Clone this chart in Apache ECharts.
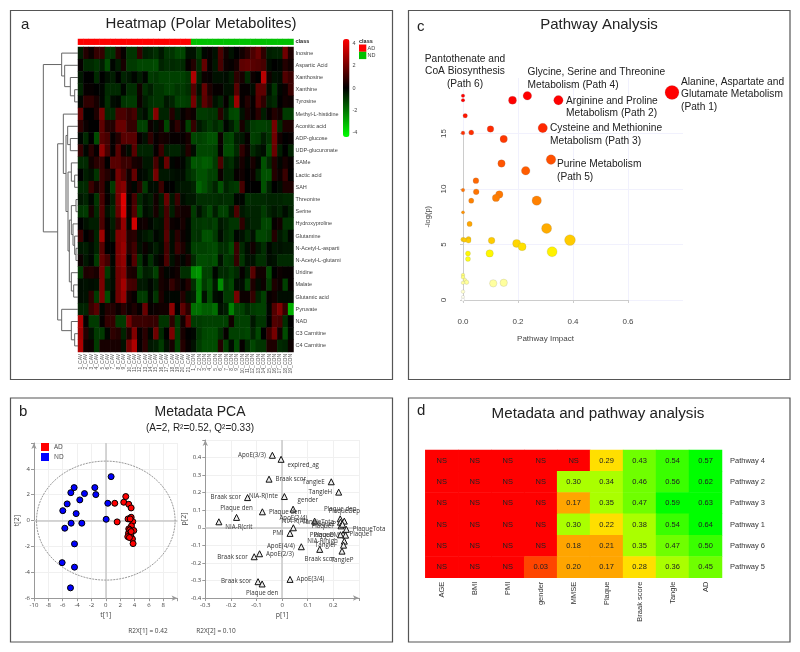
<!DOCTYPE html>
<html><head><meta charset="utf-8">
<style>html,body{margin:0;padding:0;background:#fff}#c{width:800px;height:652px}</style>
<script src="https://cdn.jsdelivr.net/npm/echarts@6/dist/echarts.min.js"></script>
</head><body><div id="c"></div>
<script>
var FONT='"Liberation Sans",Arial,sans-serif', FONT2='"Open Sans",sans-serif';
// ---- panel a
var metabolites=['Inosine','Aspartic Acid','Xanthosine','Xanthine','Tyrosine','Methyl-L-histidine','Aconitic acid','ADP-glucose','UDP-glucuronate','SAMe','Lactic acid','SAH','Threonine','Serine','Hydroxyproline','Glutamine','N-Acetyl-L-asparti','N-Acetyl-L-glutami','Uridine','Malate','Glutamic acid','Pyruvate','NAD','C3 Carnitine','C4 Carnitine'];
var adCount=21, ndCount=19;
var r00=[-.5,.6,.2,.9,.9,-.9,-.9,.7,.1,-.9,-.9,.9,-.5,-.6,-.8,-.4,-.9,-.9,-1.2,-1.2,-.3,-.3,-1,-.1,.1,-.3,1.3,.3,-.3,0,.3,.7,1.3,1.8,.8,-.5,-.6,-.6,1.9,.5];
var r01=[.1,-.7,-.7,-.9,-.5,-1.3,-.1,-.5,.4,-1,-1,-1.2,-1.2,-1.2,-1.3,-.6,-.8,-.7,-.8,-.7,.1,.6,-.7,1.7,.1,-.4,1.2,.2,.1,.4,1.6,1.7,1.5,1.4,1.2,-.2,0,-.1,.6,.3];
var r02=[-.4,0,0,-.7,0,-.3,-.5,0,-.6,-.4,-.1,-.5,-.1,-1,-.9,-1.1,-1.1,-1.1,-1.1,-1.1,-.9,3,-.6,.2,.1,-.3,-.3,-.2,-.5,.8,.4,-.7,.2,0,3.2,.3,-.3,-.2,1.4,1];
var r03=[-.6,.1,.1,0,-.1,-.7,-.7,-.7,-.1,-.8,-.8,.3,-.8,-.5,-.9,-.9,-1.1,-1.1,-.9,-1,-.8,1.4,-.3,1.7,.5,.1,.1,-.3,-.3,1.5,.1,.1,-.2,1.6,1.6,-.2,-.9,-.1,.2,1];
var r04=[-.1,.8,.8,.4,-.1,-.8,-.2,-.1,-.9,-1,-1,.2,-.5,-.8,-.9,-.9,-.4,-.6,-1.1,-1.1,-1,2,-.6,1.6,.9,-.3,-.6,.1,-.8,2.7,.1,.6,.1,1.5,.8,-.5,-.7,0,.3,.2];
var r05=[1.7,0,0,.5,2,-.7,-.7,1.3,1.3,.9,1.2,-.5,-.2,-.9,2.3,-.6,-.6,.6,-.4,.1,.4,.2,-1,-1,-.9,-.9,.7,-.5,-1.2,-1.3,-.3,.4,.1,.7,-.5,.1,.6,.3,-1,-1];
var r06=[.8,.2,0,0,1.6,.6,.6,1.8,1.8,.9,.9,-1.1,-1.1,.2,-.2,.3,-1.2,.2,.8,.2,-1.1,.9,-.4,-.7,-1,-.7,-1,-.1,-.5,-1.1,.4,-.5,-1,-1.1,-1.1,-1,2,-.7,.5,.5];
var r07=[-.1,-.7,0,-1.3,1.5,1.2,.1,.6,1.5,1.5,1.5,.1,-.3,.8,.1,.4,.3,.1,.1,.1,.4,-1.2,-1.1,-1.2,-1.4,-1.4,.2,-1.1,-1.2,-.5,-.4,.1,-1.1,-1,-.5,-.9,1.9,.3,0,.1];
var r08=[.9,-.1,.7,.1,2.5,1.2,.1,1.5,.3,-.2,1.5,-.6,-.6,-.6,.1,1,-.5,-.6,-.6,-.3,.6,-.2,-1.2,-1.2,-1.2,-1.1,.1,-1.3,-1.3,-.7,.8,.2,-.7,-.4,-.2,-1.3,1.8,-.5,0,-.6];
var r09=[-.7,-.7,.3,.7,.9,0,1.5,1.5,1,1,.4,.3,-.4,-.4,1.2,-.2,1.8,-.1,.1,-.1,-.6,-1.5,-1.4,-1.6,-1.5,-1,1.3,-.6,-.8,-.3,.4,-.1,.4,-.1,-1.4,-.7,.6,-.1,.4,.1];
var r10=[0,-.5,-.3,-.9,1,.6,.2,2,1.3,.3,1.7,-.1,-.2,-.5,2,-.4,-.4,-.3,-.2,-.2,-.7,-1,-1.4,-1.4,-1.1,-1.1,.2,-.6,-.6,.1,.3,0,.2,-.6,-1.4,-1.4,.6,.2,1,0];
var r11=[-.7,-.7,1,.4,1,-.1,-1,2,2.3,.3,-.1,.7,-1,-.2,-.2,1,0,0,-.3,-.4,-.4,-.6,-1.7,-1.4,-1,-.6,-1.4,-.6,-.9,-1,1.2,0,0,0,-1.4,-.6,0,-.2,.5,.5];
var r12=[-.4,-.6,-.1,-.9,1.2,.1,-.5,2,3.8,.1,1.2,-.7,-.3,-.5,.3,-.5,1.8,-.4,1,-.2,-.4,-.4,-.8,-.8,-.8,-.8,-.7,-.8,-.8,-.1,-.1,-.8,-.7,-.7,-.7,-.6,-.6,-.6,-.7,-.7];
var r13=[-.9,-1,.4,-.7,1.4,-.3,-.7,1.8,3.7,.2,1.4,-1.1,-.2,-.4,.4,-.5,1.2,-.5,.5,.3,.3,-1,-.3,-.8,-1.2,-.5,-1.1,-1.1,-.4,1.3,-.4,-.6,-.6,-.6,-1,-.6,-.4,-.6,-.2,-.6];
var r14=[0,-.3,-.5,-.5,1.3,.1,-.5,.9,2.5,-.1,3.6,.2,.3,-.1,-.4,-.3,1.3,.2,.1,.4,-.1,-.9,-.9,-1,-.9,-1.1,-.4,-.6,-.9,-.9,.8,-.4,-.6,-.6,-1.2,-1.2,.1,.3,-.9,-.9];
var r15=[1,0,.3,-.6,2.7,.1,-.4,2.2,2.4,.6,.7,-.2,-.4,-.6,-.1,-.3,1.5,-.2,.7,.2,-.1,-.9,-.8,-1.4,-1.4,-1,-.2,-.7,-.9,-.1,-.3,-.7,-.3,-1.2,-1.2,-1,.6,-.4,-.7,-.1];
var r16=[-.4,-.5,-.2,-.6,1.5,0,0,2.1,2.6,.6,1.1,-.3,.2,-.2,-.5,-.2,1.2,-.2,1,.5,-.2,-1.1,-1.1,-1.1,-1.2,-1.3,-.8,-.8,-1.3,1,-.7,-.2,.3,-.4,-.8,-.1,-.4,-.3,-.4,-.4];
var r17=[.2,-.4,-.1,-1,1.7,1.1,-.1,2.1,2.5,.1,1.4,-.9,-.1,-.8,-.2,.1,1.3,-.3,.3,-.1,.4,-.7,-1.3,-1.3,-1.2,-1.4,-.3,-1,-.9,.9,-.9,-.3,-.3,-.8,-.8,-.2,-.3,-.7,-.7,-.7];
var r18=[-1,.5,.6,.4,2,-1,-.2,1.9,2.3,.5,.4,-1.1,-.5,-.6,-1.1,.4,-.1,.1,.3,-.8,-.8,-2.4,-2.6,-1.1,-1.1,-.1,-.7,-.7,-1,-.7,.1,-.5,1.5,.3,.3,-1.3,0,.2,.1,.1];
var r19=[-.2,-.3,-.2,-.3,2.1,-.5,-.2,1.9,2.8,1.2,1.1,-.4,-.4,-.1,-.5,.4,.2,.9,.4,.1,.6,-.8,-2.1,-1,-1.4,-.4,-2.4,-.9,-1.2,-.2,-.2,-1.1,.5,-.2,.2,-1,.5,.2,-1.1,.1];
var r20=[-.2,-.3,.8,-1,2.1,-1.3,-.1,1.9,2.6,.4,.1,-1,-1,-.1,-.9,.5,-.1,-.1,-.1,.6,-.3,-.5,-2.2,-.3,-1.3,-.2,-.1,-1,-1,2,.2,.2,.9,-.6,-1.1,.1,.3,-.2,-.2,-.2];
var r21=[-.6,-.6,1,1.5,-.1,.6,.6,.2,.7,.2,.5,.1,1.8,.1,.2,.3,.3,2.4,0,1.6,.7,-1.9,-1.9,-1.6,-1.6,-1.9,-.3,-.5,-2.2,-1.2,-1.1,-.7,-1,-1.1,-1.1,-.1,1.4,2.2,.9,-3];
var r22=[3,.1,-1,-1,.1,.9,.9,-1,-1,2,1,1,1,.9,.9,-.9,-.9,.8,-1,.3,1.8,-1,-1,-1.1,-1.1,-1.1,-1.1,-1.1,.3,-1.1,-1.1,-1.1,-.4,-.9,-.9,0,1.4,1.2,-.8,0];
var r23=[2.8,.6,-.3,-1,-1,-.1,.8,.6,-.6,.5,2.2,.1,.7,-.1,1.9,-.7,0,2.1,-1,.4,0,-.1,-.9,-1.2,-1.3,-1.3,-.8,.1,-1.1,-1.1,-1.1,-1.2,-.6,-1.2,0,1,2,.3,-1.3,-.1];
var r24=[3,.3,.2,-1,.4,.4,.4,.4,-.3,2,3,.1,.8,-.4,-.5,-1,-.3,.4,-1.1,.6,.1,-.3,-1,-1.3,-1.3,-1.3,.6,-1.1,-.2,-1.3,.1,-.7,-1.2,-.9,-.9,.5,.5,-.7,-.6,.2];
var heatRows=[r00,r01,r02,r03,r04,r05,r06,r07,r08,r09,r10,r11,r12,r13,r14,r15,r16,r17,r18,r19,r20,r21,r22,r23,r24];
var dendroTree=[104,
  [49,0,[40,1,[23,2,[10,3,4]]]],
  [61,
    [44,5,[36,[31,6,[23,7,8]],[30,[20,9,[10,10,11]],[26,[20,[6,12,13],[15,14,[10,15,[6,16,17]]]],[20,18,[13,19,20]]]]]],
    [49,21,[20,22,[10,23,24]]]]];
var heatTicks=[-4,-2,0,2,4];
// ---- panel b
var adT1=[2.78,1.25,2.5,3.2,3.53,1.58,3.53,3.1,3.76,3.57,3.2,3.9,3.16,3.48,3.06,3.71,3.8,3.39,3.34,3.53,3.29];
var adT2=[1.86,1.34,1.42,1.26,.98,-.1,.26,.13,-.08,-.41,-.64,-.77,-.98,-1.1,-1.24,-1.42,-1.78,.13,-.72,-.85,-1.31];
var ndT1=[.74,-4.41,-1.53,-4.87,-2.97,-1.39,-3.62,-5.38,.28,-5.99,-4.13,.05,-4.83,-3.34,-5.71,-4.36,-6.08,-4.36,-4.92];
var ndT2=[3.4,2.55,2.55,2.16,2.09,2.01,1.6,1.29,1.34,.77,.54,.1,-.2,-.2,-.59,-1.8,-3.25,-3.6,-5.2];
var hotelling=[0,0,9.65,4.6];
var loadNames=['ApoE(3/3)','expired_ag','Braak scor','TangleE','TangleH','Braak scor','NIA-R(inte','gender','Plaque den','Plaque den','NIA-R(crit','Plaque dep','TangleTota','NIA-R(Alz','ApoE(2/4)','PMI','ApoE(4/4)','TangleP','Braak scor','ApoE(2/3)','Braak scor','ApoE(3/4)','Braak scor','Plaque den','PlaqueDep','PlaqueF','PlaqueP','PlaqueTota','PlaqueT','PlaqueM','PlaqueD','NIA-R(high','TangleF'];
var loadP1=[-.038,-.004,-.051,.192,.221,-.135,.009,.043,-.178,-.077,-.247,.227,.228,.127,.044,.031,.075,.234,.147,-.088,-.109,.031,-.094,-.078,.243,.23,.236,.251,.238,.248,.228,.243,.24];
var loadP2=[.413,.39,.277,.262,.203,.172,.178,.106,.059,.091,.034,.051,.032,.038,0,-.032,-.108,-.133,-.123,-.148,-.165,-.294,-.307,-.32,.038,.011,.02,-.009,-.038,-.042,-.04,-.076,-.099];
var loadSide=['left','br','right','left','left','left','left','tr','top','right','br','top','left','left','top','left','left','bottom','bottom','right','left','right','left','bottom','top','left','left','right','right','left','left','left','left'];
// ---- panel c
var impact=[0,0,.008,0,.03,.1,.148,.18,.234,.347,.29,.32,.14,.228,.047,0,.048,.03,.132,.12,.268,0,.024,.304,0,.006,.02,.02,.104,.195,.215,.389,.324,.097,.018,.018,0,0,.007,.013,0,.11,.148,0,0,0,.76];
var logP=[18.4,18,16.6,15.05,15.1,15.4,14.5,18,18.4,18,15.5,12.65,12.3,11.65,10.75,9.9,9.75,8.95,9.5,9.2,8.95,7.9,6.85,6.45,5.45,5.4,5.5,5.35,5.35,5.1,4.8,5.4,4.35,4.2,4.2,3.7,2.25,2.05,1.8,1.6,1.55,1.5,1.55,.75,.27,.03,18.7];
var bubbleSize=[3.6,3.6,4.6,3.8,5,6.6,7.4,8,8.6,9.4,9.4,9.6,7.4,8.6,5.8,3.6,5.8,5.2,7.4,7.4,9.4,3.2,5.2,10,4.4,4.4,5,5,6.6,8,8,10.8,10,7.4,5,5,3.6,3.6,3.6,4.4,3.6,7.4,7.4,3.6,3.2,3.2,14];
var bubbleNotes=['Pantothenate and\nCoA Biosynthesis\n(Path 6)','Glycine, Serine and Threonine\nMetabolism (Path 4)','Alanine, Aspartate and\nGlutamate Metabolism\n(Path 1)','Arginine and Proline\nMetabolism (Path 2)','Cysteine and Methionine\nMetabolism (Path 3)','Purine Metabolism\n(Path 5)'];
// ---- panel d
var meta=['AGE','BMI','PMI','gender','MMSE','Plaque','Braak score','Tangle','AD'];
var pathways=['Pathway 4','Pathway 2','Pathway 3','Pathway 1','Pathway 6','Pathway 5'];
var p4=[0,0,0,0,0,.29,.43,.54,.57];
var p2=[0,0,0,0,.30,.34,.46,.56,.62];
var p3=[0,0,0,0,.17,.35,.47,.59,.63];
var p1=[0,0,0,0,.30,.22,.38,.54,.64];
var p6=[0,0,0,0,.18,.21,.35,.47,.50];
var p5=[0,0,0,.03,.20,.17,.28,.36,.45];
var pathRows=[p4,p2,p3,p1,p6,p5];

// ---- derived
var sampleNames=[];
for(var i=1;i<=adCount;i++)sampleNames.push(i+'_CAV');
for(i=1;i<=ndCount;i++)sampleNames.push(i+'_CON');
var heatData=[];
heatRows.forEach(function(r,y){r.forEach(function(v,x){heatData.push([x,y,v]);});});
var classData=sampleNames.map(function(n,x){return [x,0,x<adCount?1:0];});
var dendroLines=[];
function walk(n){
  if(typeof n==='number')return {y:n+.5,h:0};
  var a=walk(n[1]),b=walk(n[2]);
  dendroLines.push({coords:[[a.h,a.y],[n[0],a.y],[n[0],b.y],[b.h,b.y]]});
  return {y:(a.y+b.y)/2,h:n[0]};
}
walk(dendroTree);
var pathData=[];
pathRows.forEach(function(r,y){r.forEach(function(v,x){pathData.push([x,y,v]);});});
function zip(a,b){return a.map(function(v,i){return [v,b[i]];});}
var sideMap={left:'left',right:'right',top:'top',bottom:'bottom',br:[10,6],tr:[8,-8]};
var loadData=loadP1.map(function(v,i){
  return {value:[v,loadP2[i]],name:loadNames[i],label:{position:sideMap[loadSide[i]]}};
});
var bubbleData=impact.map(function(v,i){return [v,logP[i],bubbleSize[i]];});

function hiddenAxis(g,type,extra){
  return Object.assign({type:type||'value',gridIndex:g,show:false},extra||{});
}
var axisGrey='#999';
function fmt1(v){return (Math.round(v*10)/10)+'';}

var grid=[
 {left:78,top:47,width:215.5,height:305},
 {left:78,top:39,width:215.5,height:5.7},
 {left:43,top:47,width:35,height:305},
 {left:343,top:39,width:6.5,height:98},
 {left:463,top:78,width:220,height:222},
 {left:463,top:133.5,width:165,height:166.5},
 {left:34,top:443,width:143.6,height:155.2},
 {left:205.3,top:440,width:153.6,height:158},
 {left:425.3,top:450,width:296.7,height:127.7}
];
var xAxis=[
 {type:'category',gridIndex:0,data:sampleNames,axisLine:{show:false},axisTick:{show:false},axisLabel:{interval:0,rotate:90,fontSize:5,margin:2,color:'#555',fontFamily:FONT}},
 {type:'category',gridIndex:1,data:sampleNames,show:false},
 {type:'value',gridIndex:2,min:0,max:105,inverse:true,show:false},
 hiddenAxis(3,'value',{min:0,max:1}),
 {type:'value',gridIndex:4,min:0,max:.8,interval:.2,axisLine:{show:false},axisTick:{show:false},axisLabel:{show:false},splitLine:{show:true,showMaxLine:false,lineStyle:{color:'#f1f1fd',width:1}}},
 {type:'value',gridIndex:5,min:0,max:.6,interval:.2,offset:8,axisLine:{show:true,lineStyle:{color:'#ccc'}},axisTick:{show:true,length:3,lineStyle:{color:'#ccc'}},splitLine:{show:false},
  axisLabel:{fontSize:8,color:'#444',margin:10,fontFamily:FONT,formatter:function(v){return v.toFixed(1);}},
  name:'Pathway Impact',nameLocation:'middle',nameGap:27,nameTextStyle:{fontSize:8,color:'#444',fontFamily:FONT}},
 {type:'value',gridIndex:6,min:-10,max:10,interval:2,axisLine:{onZero:false,lineStyle:{color:axisGrey},symbol:['none','arrow'],symbolSize:[4,6]},axisTick:{length:3,lineStyle:{color:axisGrey}},
  splitLine:{lineStyle:{color:'#f0f0f0'}},axisLabel:{fontSize:6,color:'#444',margin:4,fontFamily:FONT2,formatter:function(v){return v===10?'':v;}},
  name:'t[1]',nameLocation:'middle',nameGap:13,nameTextStyle:{fontSize:7,color:'#444',fontFamily:FONT2}},
 {type:'value',gridIndex:7,min:-.3,max:.3,interval:.1,axisLine:{onZero:false,lineStyle:{color:axisGrey},symbol:['none','arrow'],symbolSize:[4,6]},axisTick:{length:3,lineStyle:{color:axisGrey}},
  splitLine:{lineStyle:{color:'#f0f0f0'}},axisLabel:{fontSize:6,color:'#444',margin:4,fontFamily:FONT2,formatter:function(v){var s=fmt1(v);return s==='0.3'?'':s;}},
  name:'p[1]',nameLocation:'middle',nameGap:13,nameTextStyle:{fontSize:7,color:'#444',fontFamily:FONT2}},
 {type:'category',gridIndex:8,data:meta,axisLine:{show:false},axisTick:{show:false},axisLabel:{interval:0,rotate:90,fontSize:7.5,margin:4,color:'#333',fontFamily:FONT}}
];
var yAxis=[
 {type:'category',gridIndex:0,data:metabolites,inverse:true,position:'right',axisLine:{show:false},axisTick:{show:false},axisLabel:{interval:0,fontSize:5.5,margin:2,color:'#444',fontFamily:FONT}},
 {type:'category',gridIndex:1,data:['class'],position:'right',axisLine:{show:false},axisTick:{show:false},axisLabel:{fontSize:5.5,fontWeight:'bold',margin:2,color:'#222',fontFamily:FONT}},
 {type:'value',gridIndex:2,min:0,max:25,inverse:true,show:false},
 {type:'value',gridIndex:3,min:-4.4,max:4.4,position:'right',axisLine:{show:false},axisTick:{show:false},splitLine:{show:false},axisLabel:{customValues:heatTicks,fontSize:5.5,margin:3,color:'#444',fontFamily:FONT}},
 {type:'value',gridIndex:4,min:0,max:20,interval:5,axisLine:{show:false},axisTick:{show:false},axisLabel:{show:false},splitLine:{show:true,showMaxLine:false,lineStyle:{color:'#f1f1fd',width:1}}},
 {type:'value',gridIndex:5,min:0,max:15,interval:5,offset:9,axisLine:{show:true,lineStyle:{color:'#ccc'}},axisTick:{show:true,length:3,lineStyle:{color:'#ccc'}},splitLine:{show:false},
  axisLabel:{fontSize:8,rotate:90,color:'#444',margin:6,fontFamily:FONT},
  name:'-log(p)',nameLocation:'middle',nameGap:22,nameTextStyle:{fontSize:7.5,color:'#444',fontFamily:FONT}},
 {type:'value',gridIndex:6,min:-6,max:6,interval:2,axisLine:{onZero:false,lineStyle:{color:axisGrey},symbol:['none','arrow'],symbolSize:[4,6]},axisTick:{length:3,lineStyle:{color:axisGrey}},
  splitLine:{lineStyle:{color:'#f0f0f0'}},axisLabel:{fontSize:6,color:'#444',margin:4,fontFamily:FONT2,formatter:function(v){return v===6?'':v;}},
  name:'t[2]',nameLocation:'middle',nameGap:6,nameTextStyle:{fontSize:7,color:'#444',fontFamily:FONT2}},
 {type:'value',gridIndex:7,min:-.4,max:.5,interval:.1,axisLine:{onZero:false,lineStyle:{color:axisGrey},symbol:['none','arrow'],symbolSize:[4,6]},axisTick:{length:3,lineStyle:{color:axisGrey}},
  splitLine:{lineStyle:{color:'#f0f0f0'}},axisLabel:{fontSize:6,color:'#444',margin:4,fontFamily:FONT2,formatter:function(v){var s=fmt1(v);return s==='0.5'?'':s;}},
  name:'p[2]',nameLocation:'middle',nameGap:10,nameTextStyle:{fontSize:7,color:'#444',fontFamily:FONT2}},
 {type:'category',gridIndex:8,data:pathways,inverse:true,position:'right',axisLine:{show:false},axisTick:{show:false},axisLabel:{interval:0,fontSize:7.5,margin:8,color:'#333',fontFamily:FONT}}
];
var crossLines={silent:true,z:1,symbol:'none',label:{show:false},lineStyle:{color:'#c8c8c8',width:1.5,type:'solid'},data:[{xAxis:0},{yAxis:0}]};
var series=[
 {name:'heat',type:'heatmap',xAxisIndex:0,yAxisIndex:0,data:heatData,progressive:0,animation:false},
 {name:'class',type:'heatmap',xAxisIndex:1,yAxisIndex:1,data:classData,progressive:0,animation:false},
 {name:'dendrogram',type:'lines',coordinateSystem:'cartesian2d',xAxisIndex:2,yAxisIndex:2,polyline:true,data:dendroLines,lineStyle:{color:'#666',width:1,opacity:1},silent:true,animation:false},
 {name:'pathways',type:'scatter',xAxisIndex:4,yAxisIndex:4,data:bubbleData,clip:false,symbolSize:function(v){return v[2];},itemStyle:{borderColor:'rgba(120,120,120,0.35)',borderWidth:.5,opacity:1},animation:false},
 {name:'ellipse',type:'custom',xAxisIndex:6,yAxisIndex:6,data:[hotelling],silent:true,z:1,renderItem:function(p,api){
   var c=api.coord([api.value(0),api.value(1)]),s=api.size([api.value(2),api.value(3)]);
   return {type:'ellipse',shape:{cx:c[0],cy:c[1],rx:s[0],ry:s[1]},style:{fill:'transparent',stroke:'#999',lineWidth:1,lineDash:[2,1]}};
 },markLine:crossLines,animation:false},
 {name:'ND',type:'scatter',xAxisIndex:6,yAxisIndex:6,data:zip(ndT1,ndT2),symbolSize:6,itemStyle:{color:'#0000ff',borderColor:'#000',borderWidth:1,opacity:1},z:3,animation:false},
 {name:'AD',type:'scatter',xAxisIndex:6,yAxisIndex:6,data:zip(adT1,adT2),symbolSize:6,itemStyle:{color:'#ff0000',borderColor:'#000',borderWidth:1,opacity:1},z:3,animation:false},
 {name:'loadings',type:'scatter',xAxisIndex:7,yAxisIndex:7,data:loadData,symbol:'triangle',symbolSize:6,itemStyle:{color:'#eee',borderColor:'#111',borderWidth:1,opacity:1},z:3,
  label:{show:true,formatter:'{b}',fontSize:6.2,color:'#333',distance:3,fontFamily:FONT2},labelLayout:{hideOverlap:false},markLine:crossLines,animation:false},
 {name:'metadata',type:'heatmap',xAxisIndex:8,yAxisIndex:8,data:pathData,progressive:0,animation:false,
  label:{show:true,fontSize:7.5,color:'#222',fontFamily:FONT,formatter:function(p){var v=p.value[2];return v===0?'NS':v.toFixed(2);}}}
];
var visualMap=[
 {type:'continuous',seriesIndex:0,min:-4.4,max:4.4,dimension:2,inRange:{color:['#00ff00','#000000','#ff0000']},left:343,top:39,itemWidth:6.5,itemHeight:98,calculable:false,text:null,realtime:false,hoverLink:false,padding:0},
 {type:'piecewise',seriesIndex:1,show:false,dimension:2,pieces:[{value:1,color:'#ff0000'},{value:0,color:'#00c000'}]},
 {type:'continuous',seriesIndex:3,show:false,dimension:1,min:0,max:18,inRange:{color:['#ffffff','#ffff80','#ffff00','#ffb400','#ff9000','#ff7000','#ff5800','#ff4000','#ff2000','#ff0000']}},
 {type:'piecewise',seriesIndex:8,show:false,dimension:2,pieces:[{min:0,max:.02,color:'#ff0000'},{min:.02,max:.1,color:'#ff4500'},{min:.1,max:.215,color:'#ffa500'},{min:.215,max:.295,color:'#ffdf00'},{min:.295,max:.4,color:'#aaff00'},{min:.4,max:.49,color:'#6fff00'},{min:.49,max:.565,color:'#3aff00'},{min:.565,max:1,color:'#00ff00'}]}
];
function frame(x,y,w,h){return {type:'rect',shape:{x:x,y:y,width:w,height:h},style:{fill:'none',stroke:'#555',lineWidth:1.2},z:0,silent:true};}
function txt(s,x,y,size,align,extra){return {type:'text',x:x,y:y,z:10,silent:true,style:Object.assign({text:s,fontSize:size,fontFamily:FONT,fill:'#222',align:align||'left',verticalAlign:'middle',lineHeight:12.6},extra||{})};}
var noteStyle={fill:'#222'};
var graphic=[
 frame(10.5,10.5,382,369),frame(10.5,398,382,244),frame(408.5,10.5,381.5,369),frame(408.5,398,381.5,244),
 txt('a',21,25,15),txt('b',19,412,15),txt('c',417,27,15),txt('d',417,411,15),
 txt('Heatmap (Polar Metabolites)',201,24,15,'center'),
 txt('Pathway Analysis',599,25,15,'center'),
 txt('Metadata PCA',200,412,14,'center'),
 txt('(A=2, R\u00b2=0.52, Q\u00b2=0.33)',200,428,10,'center'),
 txt('Metadata and pathway analysis',598,414,15.2,'center'),
 txt('R2X[1] = 0.42',148,631,6.5,'center',{fontFamily:FONT2,fill:'#444'}),
 txt('R2X[2] = 0.10',216,631,6.5,'center',{fontFamily:FONT2,fill:'#444'}),
 txt('class',359,41,5.5,'left',{fontWeight:'bold'}),
 {type:'rect',z:10,silent:true,shape:{x:359,y:44.5,width:7.3,height:7.3},style:{fill:'#ff0000'}},
 {type:'rect',z:10,silent:true,shape:{x:359,y:51.8,width:7.3,height:7.3},style:{fill:'#00c000'}},
 txt('AD',367.5,48,5.5,'left',{fill:'#444'}),txt('ND',367.5,55.5,5.5,'left',{fill:'#444'}),
 txt(bubbleNotes[0],465,71.5,10.2,'center',noteStyle),
 txt(bubbleNotes[1],527.5,78.5,10.2,'left',noteStyle),
 txt(bubbleNotes[2],681,94.5,10.2,'left',noteStyle),
 txt(bubbleNotes[3],566,107,10.2,'left',noteStyle),
 txt(bubbleNotes[4],550,134.5,10.2,'left',noteStyle),
 txt(bubbleNotes[5],557,170.5,10.2,'left',noteStyle)
];
var chart=echarts.init(document.getElementById('c'),null,{renderer:'canvas'});
chart.setOption({
 animation:false,backgroundColor:'#fff',textStyle:{fontFamily:FONT},
 grid:grid,xAxis:xAxis,yAxis:yAxis,series:series,visualMap:visualMap,graphic:graphic,
 legend:{data:['AD','ND'],orient:'vertical',left:41,top:443,itemWidth:8,itemHeight:8,itemGap:2,icon:'rect',padding:0,textStyle:{fontSize:6.5,color:'#444',fontFamily:FONT2},itemStyle:{borderWidth:0},selectedMode:false}
});
</script></body></html>
